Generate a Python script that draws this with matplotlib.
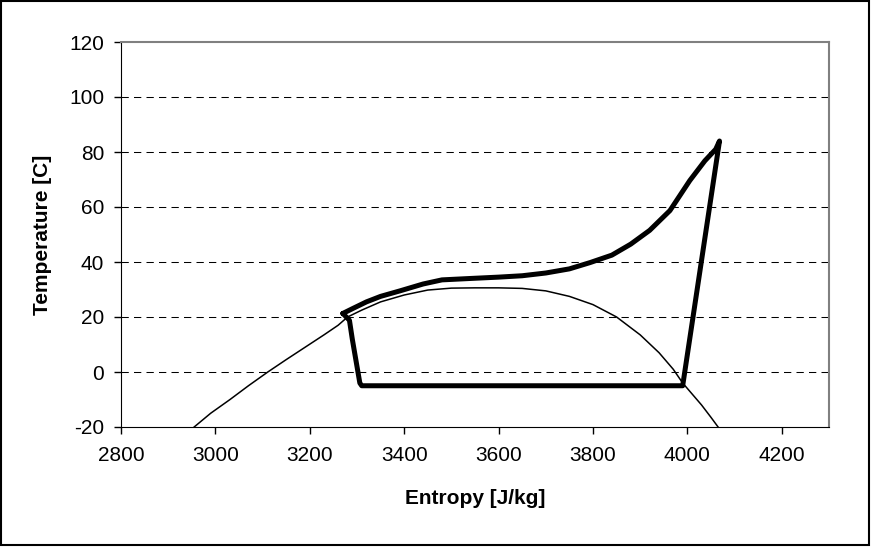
import matplotlib.pyplot as plt
from matplotlib.patches import Rectangle

plt.rcParams["font.family"] = ["Liberation Sans", "DejaVu Sans"]
plt.rcParams["axes.unicode_minus"] = False

# Saturation dome (thin line)
dome_s = [2955, 2990, 3031, 3070, 3111, 3150, 3190, 3230, 3260, 3280, 3310,
          3350, 3400, 3450, 3500, 3550, 3600, 3650, 3700, 3750, 3800, 3850,
          3900, 3940, 3970, 3990, 4010, 4030, 4050, 4065]
dome_t = [-20, -15, -10, -5, 0, 4.5, 9, 13.5, 17, 20, 22.5,
          25.5, 28, 29.8, 30.5, 30.6, 30.6, 30.4, 29.5, 27.5, 24.5, 20,
          13.5, 7, 1, -4, -8, -12, -16.5, -20]

# Refrigeration cycle (thick line)
cycle_s = [3270, 3284, 3290, 3306, 3310, 3990, 4068, 4060, 4037, 4005, 3963,
           3920, 3880, 3840, 3794, 3750, 3700, 3650, 3600, 3539, 3480, 3440,
           3391, 3350, 3320, 3290, 3270]
cycle_t = [21.3, 18.8, 12, -4, -5, -5, 84, 81, 76.8, 69.6, 58.7,
           51.5, 46.5, 42.5, 39.8, 37.5, 36, 35, 34.5, 34, 33.5, 32,
           29.5, 27.5, 25.5, 23, 21.3]

x_ticks = [2800, 3000, 3200, 3400, 3600, 3800, 4000, 4200]
y_ticks = [-20, 0, 20, 40, 60, 80, 100, 120]

W, H = 875, 547
fig = plt.figure(figsize=(W / 100, H / 100), dpi=100)
ax = fig.add_axes([121 / W, (H - 427) / H, 708 / W, 385 / H])

ax.plot(dome_s, dome_t, color="black", linewidth=1.1, zorder=3)
ax.plot(cycle_s, cycle_t, color="black", linewidth=3.6, solid_joinstyle="round",
        solid_capstyle="round", zorder=4)

ax.set_xlim(2800, 4300)
ax.set_ylim(-20, 120)
ax.set_xticks(x_ticks)
ax.set_yticks(y_ticks)
ax.tick_params(labelsize=15, direction="out", length=5, width=1, colors="black")
ax.tick_params(axis="x", pad=9)
ax.tick_params(axis="y", pad=7)

for v in y_ticks[1:-1]:
    ax.axhline(v, color="black", linewidth=0.75, linestyle=(0, (7, 5)), zorder=1)

ax.spines["left"].set_color("black")
ax.spines["bottom"].set_color("black")
for side in ("top", "right"):
    ax.spines[side].set_color("#808080")
    ax.spines[side].set_linewidth(1.5)

ax.set_xlabel("Entropy [J/kg]", fontsize=15, fontweight="bold")
ax.set_ylabel("Temperature [C]", fontsize=15, fontweight="bold")
ax.xaxis.set_label_coords(0.5, (427 - 489) / 385)
ax.yaxis.set_label_coords((52 - 121) / 708, 0.5)

fig.patches.append(Rectangle((1 / W, 2 / H), (W - 7) / W, (H - 3) / H,
                             transform=fig.transFigure, fill=False,
                             edgecolor="black", linewidth=1.5))

fig.savefig("out.png", dpi=100)
